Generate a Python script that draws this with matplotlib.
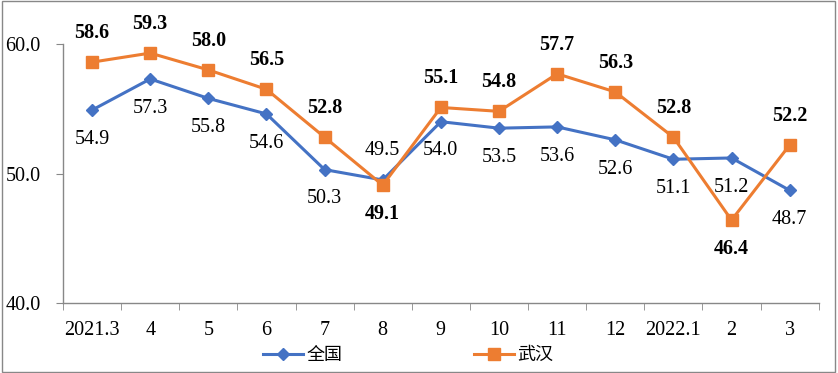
import matplotlib.pyplot as plt
from matplotlib.patches import Rectangle

months = ['2021.3', '4', '5', '6', '7', '8', '9', '10', '11', '12', '2022.1', '2', '3']
national = [54.9, 57.3, 55.8, 54.6, 50.3, 49.5, 54.0, 53.5, 53.6, 52.6, 51.1, 51.2, 48.7]
wuhan = [58.6, 59.3, 58.0, 56.5, 52.8, 49.1, 55.1, 54.8, 57.7, 56.3, 52.8, 46.4, 52.2]

# labels drawn above (+1) or below (-1) the point
national_pos = [-1, -1, -1, -1, -1, 1, -1, -1, -1, -1, -1, -1, -1]
wuhan_pos = [1, 1, 1, 1, 1, -1, 1, 1, 1, 1, 1, -1, 1]

serif = ['Liberation Serif', 'DejaVu Serif']
cjk = ['Noto Sans CJK SC', 'DejaVu Sans']

fig = plt.figure(figsize=(8.38, 3.73), dpi=100)
ax = fig.add_axes([0.0752, 0.1877, 0.9018, 0.6943])

x = list(range(len(months)))
ax.plot(x, national, color='#4472C4', lw=2.2, marker='D', ms=6, label='全国', clip_on=False)
ax.plot(x, wuhan, color='#ED7D31', lw=2.2, marker='s', ms=8, label='武汉', clip_on=False)

for i, v in enumerate(national):
    ax.annotate(f'{v:.1f}', (i, v), xytext=(0, 21 * national_pos[i]), textcoords='offset points',
                ha='center', va='center', fontsize=14.5, family=serif, annotation_clip=False)
for i, v in enumerate(wuhan):
    ax.annotate(f'{v:.1f}', (i, v), xytext=(0, 21 * wuhan_pos[i]), textcoords='offset points',
                ha='center', va='center', fontsize=14.5, fontweight='bold', family=serif,
                annotation_clip=False)

ax.set_xlim(-0.5, len(months) - 0.5)
ax.set_ylim(40, 60)
ax.set_yticks([40, 50, 60])
ax.set_yticklabels(['40.0', '50.0', '60.0'], family=serif, fontsize=14.5)
ax.set_xticks(x)
ax.set_xticklabels(months, family=serif, fontsize=14.5)
ax.set_xticks([i - 0.5 for i in range(len(months) + 1)], minor=True)
ax.tick_params(axis='x', which='major', length=0, pad=13)
ax.tick_params(axis='x', which='minor', length=5, color='#888888')
ax.tick_params(axis='y', length=5, color='#888888', pad=11)

for s in ['top', 'right']:
    ax.spines[s].set_visible(False)
for s in ['left', 'bottom']:
    ax.spines[s].set_color('#888888')
    ax.spines[s].set_linewidth(1)

leg = fig.legend(loc='lower center', bbox_to_anchor=(0.487, -0.02), ncol=2, frameon=False,
                 prop={'family': cjk, 'size': 13}, handlelength=2.2, columnspacing=7.3,
                 handletextpad=0.2)

fig.patches.append(Rectangle((0.002, 0.003), 0.994, 0.994, transform=fig.transFigure,
                             fill=False, edgecolor='#888888', lw=1))

fig.savefig('out.png', dpi=100)
